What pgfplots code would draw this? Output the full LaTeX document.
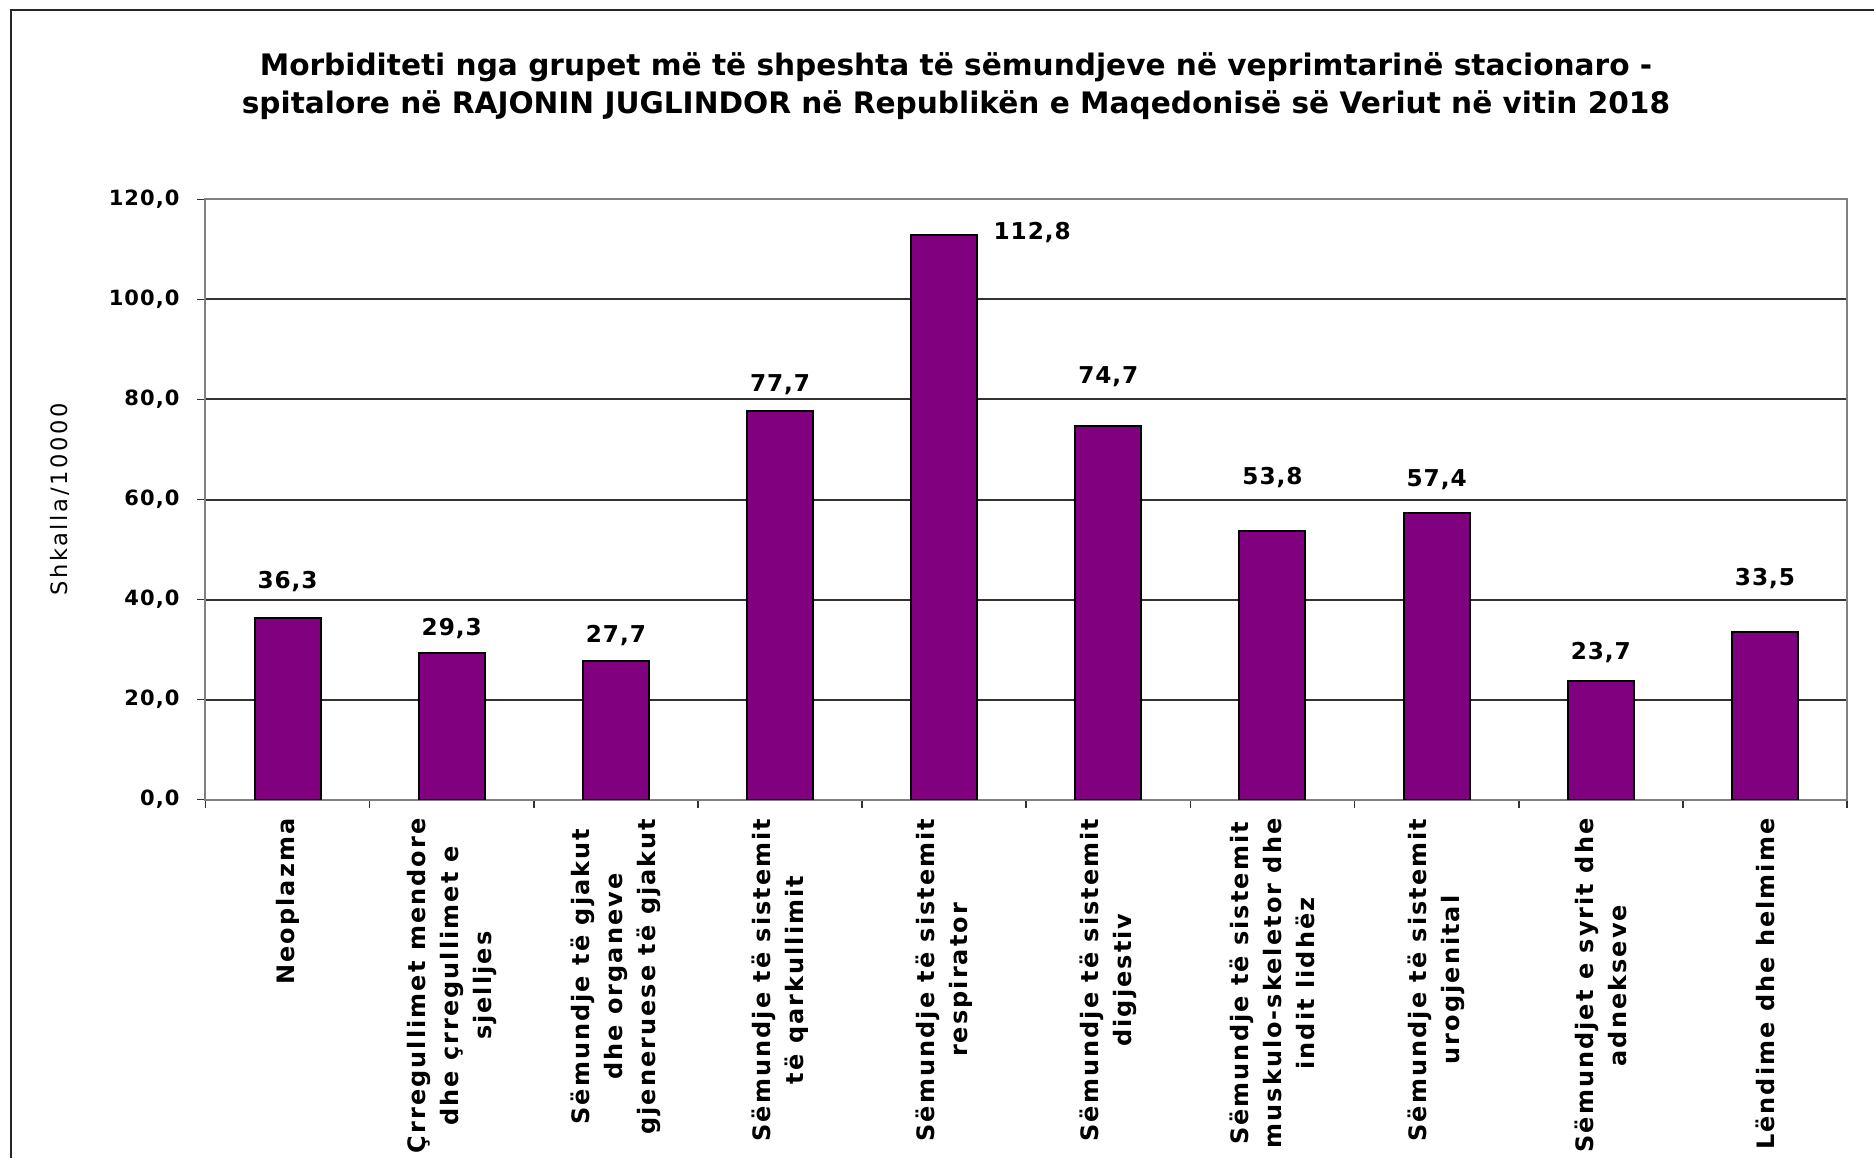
\documentclass[border=0pt]{standalone}
\usepackage{fontspec}
\usepackage{pgfplots}
\pgfplotsset{compat=1.18}
\usepackage{pgfplotstable}
\newfontfamily\tickfont{DejaVu Sans}[LetterSpace=5]
\newfontfamily\datafont{DejaVu Sans}[LetterSpace=4]
\newfontfamily\xlabfont{DejaVu Sans}[LetterSpace=8.5]
\newfontfamily\ylabfont{DejaVu Sans}[LetterSpace=11.5]
\newfontfamily\titlefont{DejaVu Sans}
\definecolor{barpurple}{RGB}{128,0,128}
\definecolor{gridgray}{RGB}{50,50,50}
\definecolor{axisgray}{RGB}{128,128,128}

\pgfplotstableread{
x y lbl dx dy
0 36.3 36,3 0 18
1 29.3 29,3 0 12.15
2 27.7 27,7 0 12.5
3 77.7 77,7 0 13
4 112.8 112,8 44 1.25
5 74.7 74,7 0 24.5
6 53.8 53,8 0 26.7
7 57.4 57,4 0 16.65
8 23.7 23,7 0 14.35
9 33.5 33,5 0 26.7
}\datatable

\begin{document}
\begin{tikzpicture}
\useasboundingbox (0,0) rectangle (937pt,579pt);
\fill[white] (0,0) rectangle (937pt,579pt);
\draw[line width=1pt, color=black!85] (5.25pt,0) -- (5.25pt,574pt) -- (937pt,574pt);
\node[align=center, font=\titlefont\bfseries\fontsize{14.8}{19}\selectfont] at (478pt,536pt)
 {Morbiditeti nga grupet më të shpeshta të sëmundjeve në veprimtarinë stacionaro -\\spitalore në RAJONIN JUGLINDOR në Republikën e Maqedonisë së Veriut në vitin 2018};
\begin{axis}[
  at={(102.75pt,179.25pt)}, anchor=south west,
  width=820.75pt, height=300pt, scale only axis,
  ybar,
  xmin=-0.5, xmax=9.5, ymin=0, ymax=120,
  ytick={0,20,...,120},
  xtick={-0.5,0.5,...,9.5}, xticklabels={},
  extra x ticks={0,1,2,3,4,5,6,7,8,9},
  extra x tick labels={Neoplazma,
    {Çrregullimet mendore\\dhe çrregullimet e\\sjelljes},
    {Sëmundje të gjakut\\dhe organeve\\gjeneruese të gjakut},
    {Sëmundje të sistemit\\të qarkullimit},
    {Sëmundje të sistemit\\respirator},
    {Sëmundje të sistemit\\digjestiv},
    {Sëmundje të sistemit\\muskulo-skeletor dhe\\indit lidhëz},
    {Sëmundje të sistemit\\urogjenital},
    {Sëmundjet e syrit dhe\\adnekseve},
    Lëndime dhe helmime},
  extra x tick style={major tick length=0pt, grid=none},
  xticklabel style={yshift=-6pt, rotate=90, anchor=east, align=center,
    font=\xlabfont\bfseries\fontsize{12}{16.6}\selectfont},
  ymajorgrids, grid style={color=gridgray, line width=1pt},
  axis line style={color=axisgray, line width=1pt},
  tick align=outside, tick pos=left, major tick length=4pt,
  tick style={color=black!80, line width=0.8pt},
  yticklabel style={font=\tickfont\bfseries\fontsize{10.5}{12}\selectfont, xshift=-5.5pt,
    /pgf/number format/.cd, fixed, fixed zerofill, precision=1, use comma, assume math mode=true},
  ylabel={Shkalla/10000},
  every axis y label/.style={at={(axis description cs:-0.0888,0.5)}, rotate=90, anchor=center,
    font=\ylabfont\fontsize{11.3}{13}\selectfont},
]
\addplot[ybar, bar width=0.402, fill=barpurple, draw=black, line width=1pt,
  nodes near coords, point meta=explicit symbolic,
  visualization depends on={\thisrow{dx}\as\dx},
  visualization depends on={\thisrow{dy}\as\dy},
  nodes near coords style={anchor=center, xshift={\dx*1pt}, yshift={\dy*1pt},
    font=\datafont\bfseries\fontsize{11.6}{13}\selectfont, text=black}]
  table[x=x, y=y, meta=lbl]{\datatable};
\end{axis}
\end{tikzpicture}
\end{document}
